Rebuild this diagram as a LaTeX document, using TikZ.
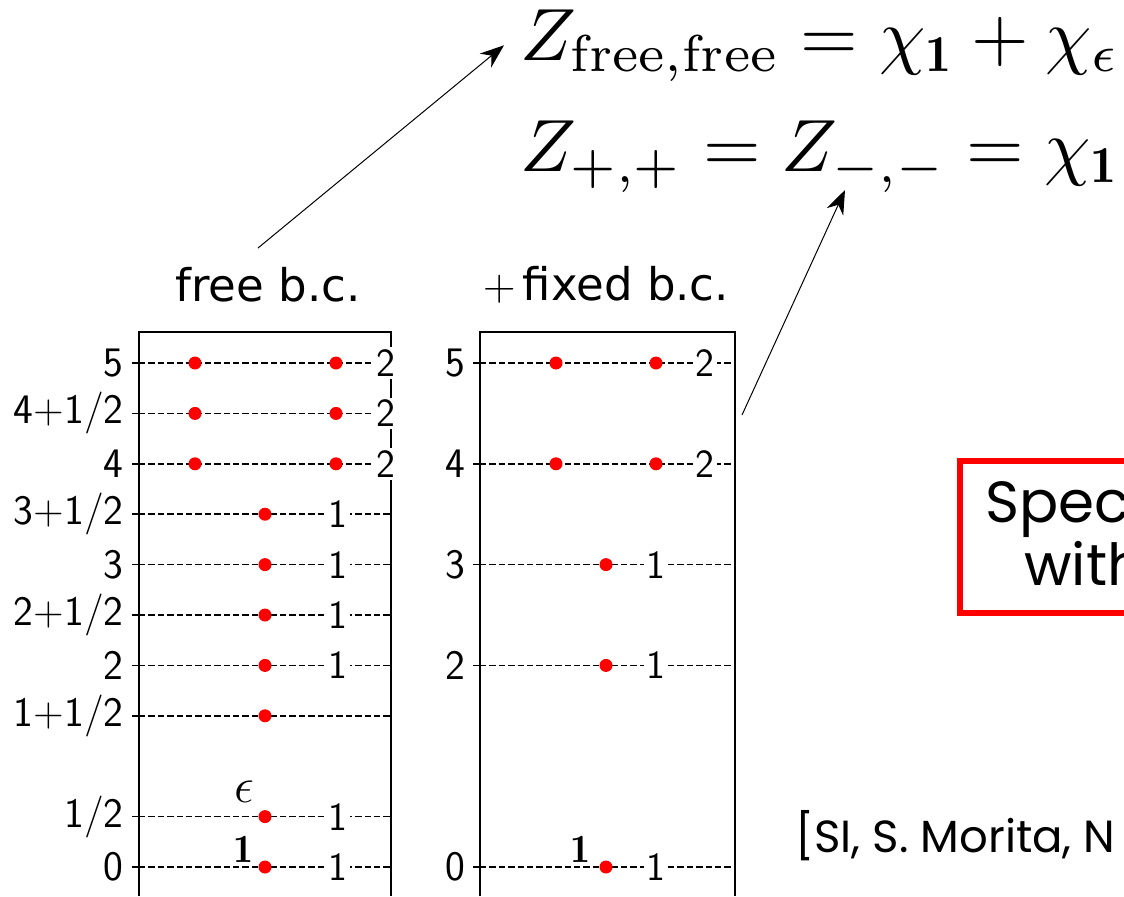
\RequirePackage{fix-cm}
\documentclass[tikz,border=0pt]{standalone}
\usepackage{fontspec}
\newfontfamily\titlefont{DejaVu Sans}
\newfontfamily\notefont{Poppins}
\usetikzlibrary{arrows.meta}
\tikzset{
    frame/.style={line width=0.75pt},
    level/.style={dash pattern=on 3.2pt off 1.5pt, line width=0.75pt},
    tickmark/.style={line width=0.75pt},
    state/.style={circle, fill=red, inner sep=0pt, minimum size=6.5pt},
    deg/.style={fill=white, inner sep=1.2pt, font=\fontsize{20}{20}\selectfont\sffamily},
    ticklabel/.style={anchor=east, inner sep=0pt, font=\fontsize{21}{21}\selectfont\sffamily},
    opname/.style={inner sep=0pt, font=\fontsize{20}{20}\selectfont},
    title/.style={inner sep=0pt, font=\fontsize{22.5}{24}\selectfont\titlefont},
    eq/.style={anchor=base west, inner sep=0pt},
    note/.style={anchor=base west, inner sep=0pt, font=\notefont},
    redbox/.style={draw=red, line width=3pt},
    link/.style={-{Stealth[length=12pt,width=9pt]}, line width=0.5pt}
}
\begin{document}
\begin{tikzpicture}[x=0.5pt, y=-0.5pt]
    \useasboundingbox (0,0) rectangle (1124,896);
    % partition functions
    \node[eq] (zfree) at (520,60) {\scalebox{3.7}{$Z_{\mathrm{free,free}} = \chi_{\mathbf{1}} + \chi_{\epsilon}$}};
    \node[eq] (zfix) at (520,171) {\scalebox{3.7}{$Z_{+,+} = Z_{-,-} = \chi_{\mathbf{1}}$}};
    \node[title] (freetitle) at (268,285) {free b.c.};
    \node[title] (fixtitle) at (606,285) {$+$\,fixed b.c.};
    % free b.c. spectrum
    \draw[frame] (139,896) -- (139,332) -- (391,332) -- (391,896);
    \foreach \h/\lab/\m/\d in {10/5/2/2, 9/{4+1/2}/2/2, 8/4/2/2, 7/{3+1/2}/1/1,
        6/3/1/1, 5/{2+1/2}/1/1, 4/2/1/1, 3/{1+1/2}/1/0, 1/{1/2}/1/1, 0/0/1/1} {
        \pgfmathsetmacro\y{867-50.4*\h}
        \coordinate (fl\h) at (139,\y);
        \coordinate (fr\h) at (391,\y);
        \draw[level] (fl\h) -- (fr\h);
        \draw[tickmark] (fl\h) -- ++(-7,0);
        \node[ticklabel] (ft\h) at (124,\y) {\lab};
        \ifnum\m=2
            \node[state] (fa\h) at (195,\y) {};
            \node[state] (fb\h) at (336,\y) {};
            \node[deg] (fd\h) at (386,\y) {\d};
        \else
            \node[state] (fa\h) at (265,\y) {};
            \ifnum\d>0 \node[deg] (fd\h) at (338,\y) {\d}; \fi
        \fi
    }
    \node[opname, font=\fontsize{25}{25}\selectfont] (feps) at (244,792) {$\epsilon$};
    \node[opname] (fone) at (243,849) {$\mathbf{1}$};
    % + fixed b.c. spectrum
    \draw[frame] (480,896) -- (480,332) -- (735,332) -- (735,896);
    \foreach \h/\m/\d in {10/2/2, 8/2/2, 6/1/1, 4/1/1, 0/1/1} {
        \pgfmathsetmacro\y{867-50.4*\h}
        \pgfmathtruncatemacro\v{\h/2}
        \coordinate (xl\h) at (480,\y);
        \coordinate (xr\h) at (735,\y);
        \draw[level] (xl\h) -- (xr\h);
        \draw[tickmark] (xl\h) -- ++(-7,0);
        \node[ticklabel] (xt\h) at (466,\y) {\v};
        \ifnum\m=2
            \node[state] (xa\h) at (556,\y) {};
            \node[state] (xb\h) at (656,\y) {};
            \node[deg] (xd\h) at (705,\y) {\d};
        \else
            \node[state] (xa\h) at (606,\y) {};
            \node[deg] (xd\h) at (656,\y) {\d};
        \fi
    }
    \node[opname] (xone) at (580,849) {$\mathbf{1}$};
    % arrows to the formulas
    \coordinate (from1) at (258,248);
    \coordinate (from2) at (742,415);
    \coordinate (to2) at (845,190);
    \draw[link] (from1) -- ([xshift=-8pt]zfree.west);
    \draw[link] (from2) -- (to2);
    % note and reference
    \draw[redbox] (960,461) rectangle (1180,613);
    \node[note, font=\notefont\fontsize{29}{30}\selectfont] (spec) at (985,522) {Spect};
    \node[note, font=\notefont\fontsize{29}{30}\selectfont] (with) at (1024,585) {with};
    \node[note, font=\notefont\fontsize{22.5}{24}\selectfont] (ref) at (795,852) {[SI, S. Morita, N};
\end{tikzpicture}
\end{document}
